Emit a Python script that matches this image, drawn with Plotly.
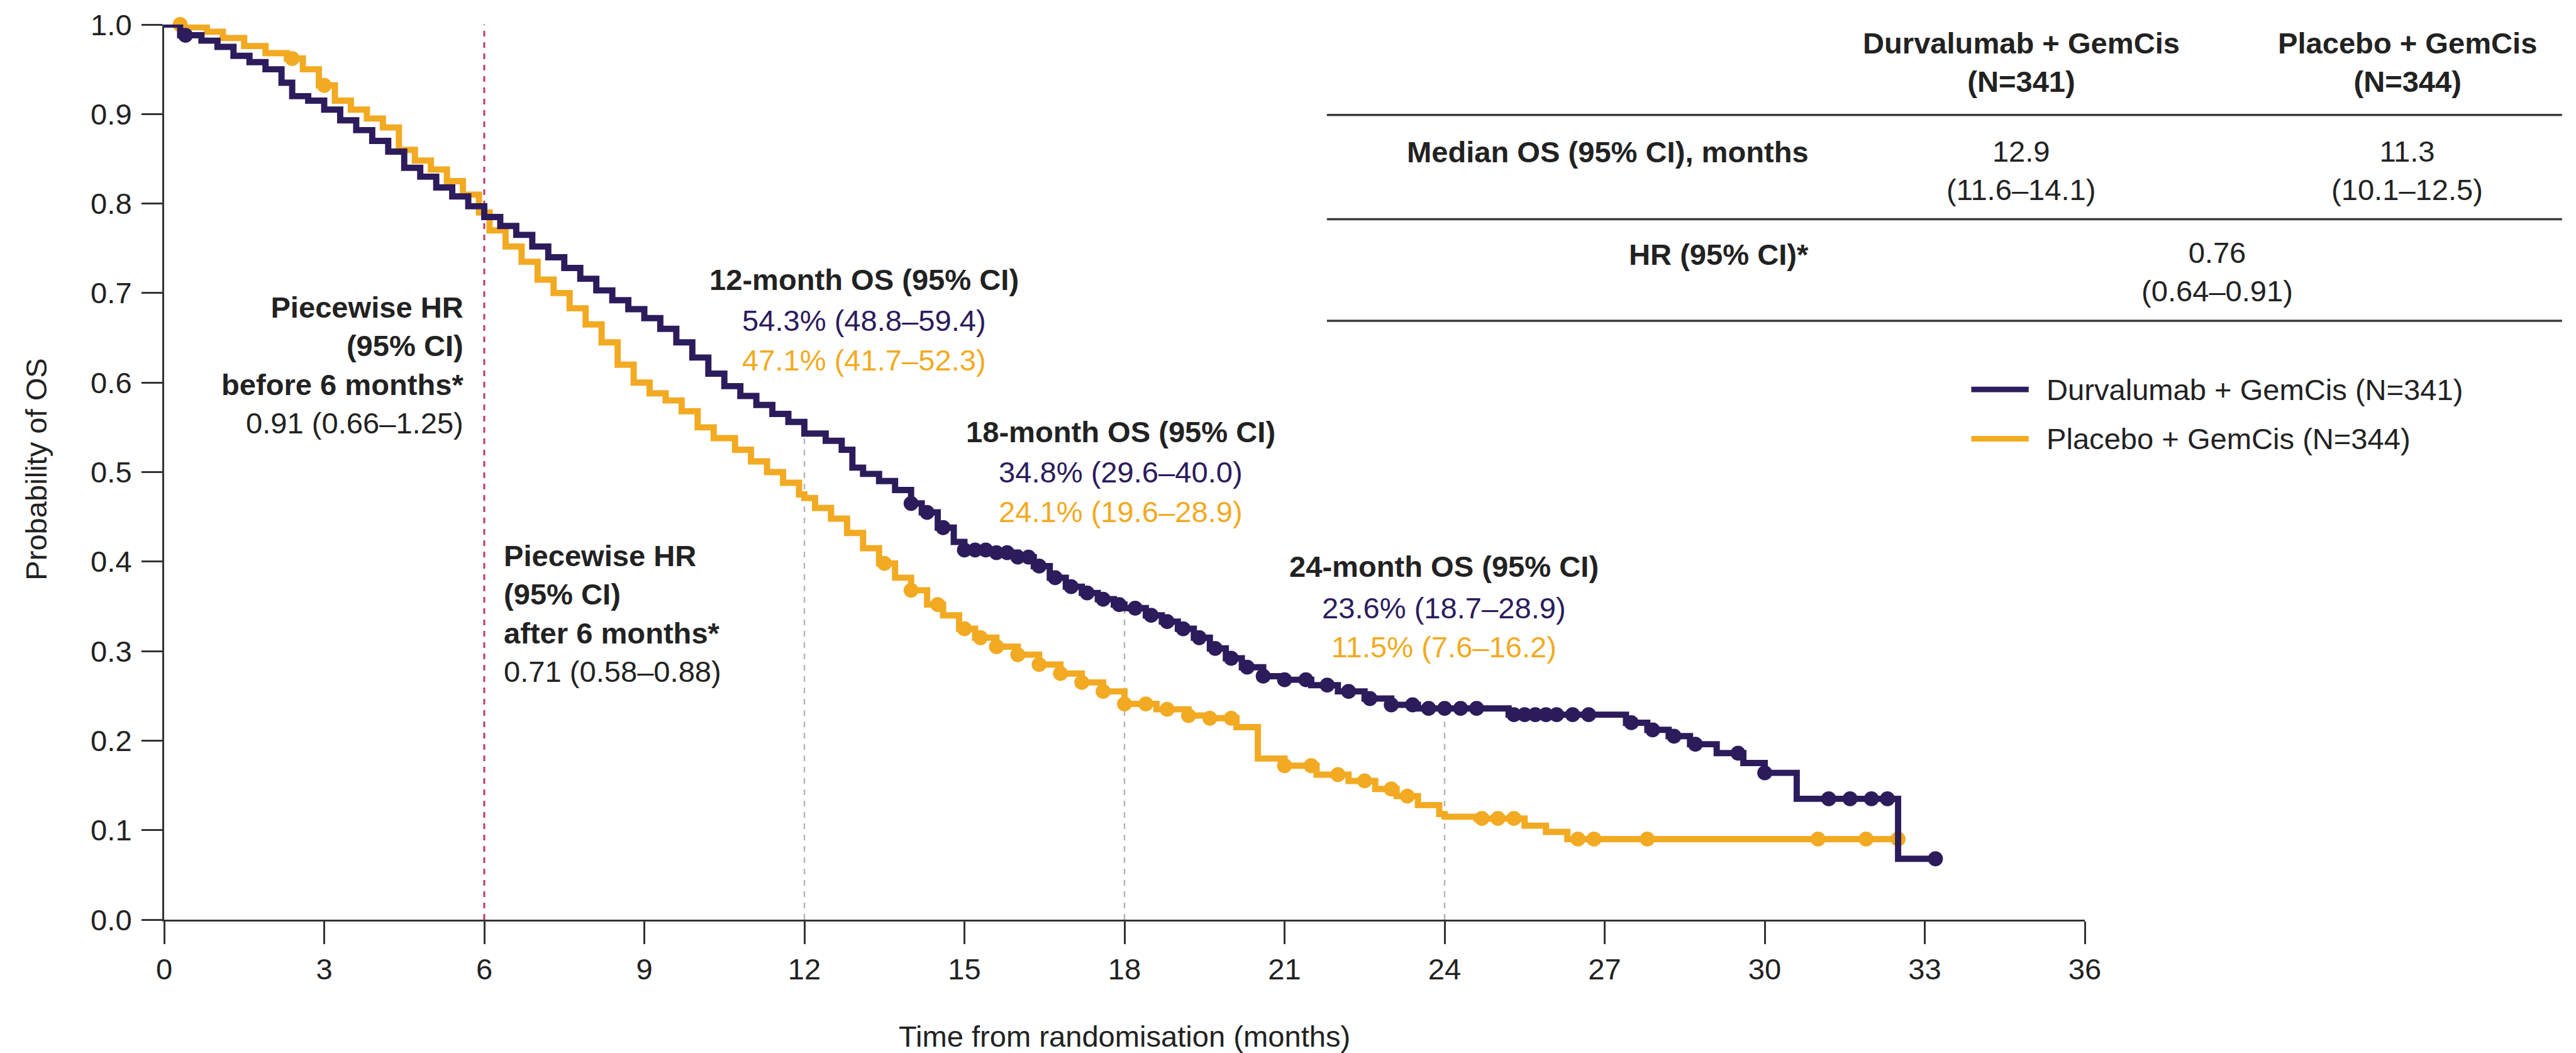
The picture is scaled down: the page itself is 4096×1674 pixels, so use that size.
import numpy as np
import plotly.graph_objects as go

# ---------------- data ----------------
durva_t = [0, 0.3, 0.7, 1.0, 1.3, 1.6, 1.9, 2.2, 2.4, 2.7, 3.0, 3.3, 3.6, 3.9, 4.2, 4.5, 4.8, 5.1, 5.4, 5.7,
           6.0, 6.3, 6.6, 6.9, 7.2, 7.5, 7.8, 8.1, 8.4, 8.7, 9.0, 9.3, 9.6, 9.9, 10.2, 10.5, 10.8, 11.1, 11.4,
           11.7, 12.0, 12.4, 12.7, 12.9, 13.1, 13.4, 13.7, 14.0, 14.2, 14.5, 14.8, 15.0, 15.5, 16.0, 16.3, 16.6,
           16.9, 17.2, 17.5, 17.8, 18.0, 18.4, 18.7, 19.0, 19.3, 19.6, 19.9, 20.2, 20.6, 21.0, 21.5, 22.0, 22.5,
           23.0, 23.5, 25.2, 27.4, 27.8, 28.2, 28.6, 29.1, 29.6, 30.0, 30.6, 32.5, 33.2]
durva_s = [1.000, 0.988, 0.982, 0.975, 0.965, 0.958, 0.950, 0.935, 0.920, 0.915, 0.905, 0.893, 0.882, 0.870,
           0.858, 0.840, 0.830, 0.818, 0.808, 0.797, 0.785, 0.775, 0.765, 0.752, 0.740, 0.728, 0.716, 0.703,
           0.692, 0.682, 0.672, 0.660, 0.645, 0.628, 0.610, 0.596, 0.585, 0.575, 0.565, 0.556, 0.543, 0.535,
           0.525, 0.505, 0.498, 0.490, 0.480, 0.465, 0.455, 0.438, 0.422, 0.413, 0.410, 0.405, 0.395, 0.382,
           0.372, 0.365, 0.358, 0.352, 0.348, 0.340, 0.333, 0.325, 0.315, 0.303, 0.292, 0.282, 0.272, 0.268,
           0.262, 0.255, 0.247, 0.240, 0.236, 0.229, 0.220, 0.212, 0.205, 0.196, 0.186, 0.175, 0.164, 0.135,
           0.068, 0.068]

placebo_t = [0, 0.5, 0.8, 1.1, 1.5, 1.9, 2.3, 2.6, 2.9, 3.2, 3.5, 3.8, 4.1, 4.4, 4.7, 5.0, 5.3, 5.6, 5.9,
             6.1, 6.4, 6.7, 7.0, 7.3, 7.6, 7.9, 8.2, 8.5, 8.8, 9.1, 9.4, 9.7, 10.0, 10.3, 10.7, 11.0, 11.3,
             11.6, 11.9, 12.0, 12.2, 12.5, 12.8, 13.1, 13.4, 13.7, 14.0, 14.3, 14.6, 14.9, 15.2, 15.6,
             16.0, 16.4, 16.8, 17.2, 17.6, 18.0, 18.6, 19.2, 19.6, 20.1, 20.5, 21.0, 21.6, 22.2, 22.7, 23.1,
             23.5, 23.9, 24.0, 24.6, 25.5, 25.9, 26.3, 32.5]
placebo_s = [1.000, 0.997, 0.992, 0.985, 0.976, 0.968, 0.962, 0.950, 0.932, 0.915, 0.905, 0.895, 0.885,
             0.860, 0.848, 0.838, 0.825, 0.810, 0.790, 0.770, 0.752, 0.735, 0.715, 0.700, 0.683, 0.665,
             0.645, 0.620, 0.600, 0.588, 0.580, 0.568, 0.550, 0.538, 0.525, 0.512, 0.500, 0.488,
             0.475, 0.471, 0.460, 0.448, 0.432, 0.415, 0.398, 0.382, 0.368, 0.352, 0.340, 0.325, 0.315,
             0.305, 0.296, 0.285, 0.275, 0.265, 0.255, 0.241, 0.235, 0.228, 0.225, 0.215, 0.180, 0.172,
             0.162, 0.155, 0.146, 0.138, 0.128, 0.118, 0.115, 0.113, 0.105, 0.098, 0.090, 0.090]

durva_cens = [0.4, 14.0, 14.3, 14.6, 15.0, 15.2, 15.4, 15.6, 15.8, 16.0, 16.2, 16.4, 16.7, 17.0, 17.3, 17.6,
              17.9, 18.2, 18.5, 18.8, 19.1, 19.4, 19.7, 20.0, 20.3, 20.6, 21.0, 21.4, 21.8, 22.2, 22.6, 23.0,
              23.4, 23.7, 24.0, 24.3, 24.6, 25.3, 25.5, 25.7, 25.9, 26.1, 26.4, 26.7, 27.5, 27.9, 28.3, 28.7,
              29.5, 30.0, 31.2, 31.6, 32.0, 32.3, 33.2]
placebo_cens = [0.3, 2.4, 3.0, 13.5, 14.0, 14.5, 15.0, 15.3, 15.6, 16.0, 16.4, 16.8, 17.2, 17.6, 18.0, 18.4,
                18.8, 19.2, 19.6, 20.0, 21.0, 21.5, 22.0, 22.5, 23.0, 23.3, 24.7, 25.0, 25.3, 26.5, 26.8,
                27.8, 31.0, 31.9, 32.5]

landmarks = [12, 18, 24]
x_ticks = list(range(0, 37, 3))
y_ticks = [round(v * 0.1, 1) for v in range(11)]

series_names = ["Durvalumab + GemCis (N=341)", "Placebo + GemCis (N=344)"]
col_heads = ["Durvalumab + GemCis<br>(N=341)", "Placebo + GemCis<br>(N=344)"]
median_os = ["12.9<br>(11.6–14.1)", "11.3<br>(10.1–12.5)"]
hr_overall = "0.76<br>(0.64–0.91)"

# ---------------- styling ----------------
PURPLE = "#2C1C5C"
ORANGE = "#F2AA22"
TXT = "#222222"
FONT = "Liberation Sans, Arial, Helvetica, sans-serif"

W, H, S = 4096, 1674, 0.992
L, R, T, B = 263 * S, 3342 * S, 39 * S, 1474 * S
FS = 47.5 * S


def px(xr):
    return (xr * S - L) / (R - L)


def py(yr):
    return (B - yr * S) / (B - T)


def step_at(ts, ss, t):
    idx = np.searchsorted(np.array(ts), t, side="right") - 1
    return ss[max(idx, 0)]


fig = go.Figure()

for ts, ss, cens, col, name in [
    (placebo_t, placebo_s, placebo_cens, ORANGE, series_names[1]),
    (durva_t, durva_s, durva_cens, PURPLE, series_names[0]),
]:
    fig.add_trace(go.Scatter(x=ts, y=ss, mode="lines", line=dict(color=col, width=10 * S, shape="hv"),
                             name=name, showlegend=False, cliponaxis=False))
    fig.add_trace(go.Scatter(x=cens, y=[step_at(ts, ss, c) for c in cens], mode="markers",
                             marker=dict(color=col, size=24 * S, line=dict(width=0)),
                             showlegend=False, cliponaxis=False, hoverinfo="skip"))

shapes = []
# 6-month piecewise line
shapes.append(dict(type="line", xref="x", yref="y", x0=6, x1=6, y0=0, y1=1,
                   line=dict(color="#B83A62", width=3 * S, dash="dash"), layer="below"))
for lm in landmarks:
    shapes.append(dict(type="line", xref="x", yref="y", x0=lm, x1=lm, y0=0,
                       y1=step_at(durva_t, durva_s, lm),
                       line=dict(color="#B5B5B5", width=2.5 * S, dash="dash"), layer="below"))
# table rules
for yr in [184, 351, 514]:
    shapes.append(dict(type="line", xref="paper", yref="paper", x0=px(2127), x1=px(4107), y0=py(yr), y1=py(yr),
                       line=dict(color="#3a3a3a", width=3.5 * S)))
# legend samples
for yr, col in [(624, PURPLE), (703, ORANGE)]:
    shapes.append(dict(type="line", xref="paper", yref="paper", x0=px(3160), x1=px(3252), y0=py(yr), y1=py(yr),
                       line=dict(color=col, width=9 * S)))

ann = []


def add(text, xr, yr, xanchor="center", color=TXT, size=FS):
    ann.append(dict(text=text, x=px(xr), y=py(yr), xref="paper", yref="paper", xanchor=xanchor,
                    yanchor="middle", showarrow=False, align=xanchor if xanchor != "center" else "center",
                    font=dict(family=FONT, size=size, color=color)))


# table
add("<b>" + col_heads[0] + "</b>", 3240, 100)
add("<b>" + col_heads[1] + "</b>", 3859, 100)
add("<b>Median OS (95% CI), months</b>", 2901, 243, "right")
add(median_os[0], 3240, 273)
add(median_os[1], 3859, 273)
add("<b>HR (95% CI)*</b>", 2901, 408, "right")
add(hr_overall, 3554, 435)

# legend texts
add(series_names[0], 3278, 624, "left")
add(series_names[1], 3278, 703, "left")

# landmark blocks
add("<b>12-month OS (95% CI)</b>", 1385, 448)
add("54.3% (48.8–59.4)", 1385, 513, color=PURPLE)
add("47.1% (41.7–52.3)", 1385, 577, color=ORANGE)
add("<b>18-month OS (95% CI)</b>", 1796, 692)
add("34.8% (29.6–40.0)", 1796, 756, color=PURPLE)
add("24.1% (19.6–28.9)", 1796, 820, color=ORANGE)
add("<b>24-month OS (95% CI)</b>", 2315, 908)
add("23.6% (18.7–28.9)", 2315, 974, color=PURPLE)
add("11.5% (7.6–16.2)", 2315, 1037, color=ORANGE)

# piecewise HR blocks
add("<b>Piecewise HR<br>(95% CI)<br>before 6 months*</b><br>0.91 (0.66–1.25)", 745, 585, "right")
add("<b>Piecewise HR<br>(95% CI)<br>after 6 months*</b><br>0.71 (0.58–0.88)", 805, 983, "left")

# axis titles
add("Time from randomisation (months)", 1802, 1661)
ann.append(dict(text="Probability of OS", x=px(57), y=py(752), xref="paper", yref="paper", textangle=-90,
                showarrow=False, xanchor="center", yanchor="middle",
                font=dict(family=FONT, size=FS, color=TXT)))

fig.update_layout(
    width=W, height=H,
    margin=dict(l=round(L), r=W - round(R), t=round(T), b=H - round(B), pad=0),
    paper_bgcolor="white", plot_bgcolor="white",
    showlegend=False,
    shapes=shapes, annotations=ann,
    font=dict(family=FONT, size=FS, color=TXT),
    xaxis=dict(range=[0, 36], tickvals=x_ticks, ticks="outside", ticklen=36 * S, tickwidth=3 * S,
               tickcolor="#333", showline=True, linewidth=3.5 * S, linecolor="#333", showgrid=False,
               zeroline=False, tickfont=dict(family=FONT, size=FS, color=TXT), ticklabelstandoff=0),
    yaxis=dict(range=[0, 1], tickvals=y_ticks, tickformat=".1f", ticks="outside", ticklen=33 * S,
               tickwidth=3 * S, tickcolor="#333", showline=True, linewidth=3.5 * S, linecolor="#333",
               showgrid=False, zeroline=False, tickfont=dict(family=FONT, size=FS, color=TXT),
               ticklabelstandoff=6),
)

fig.write_html("out.html")
